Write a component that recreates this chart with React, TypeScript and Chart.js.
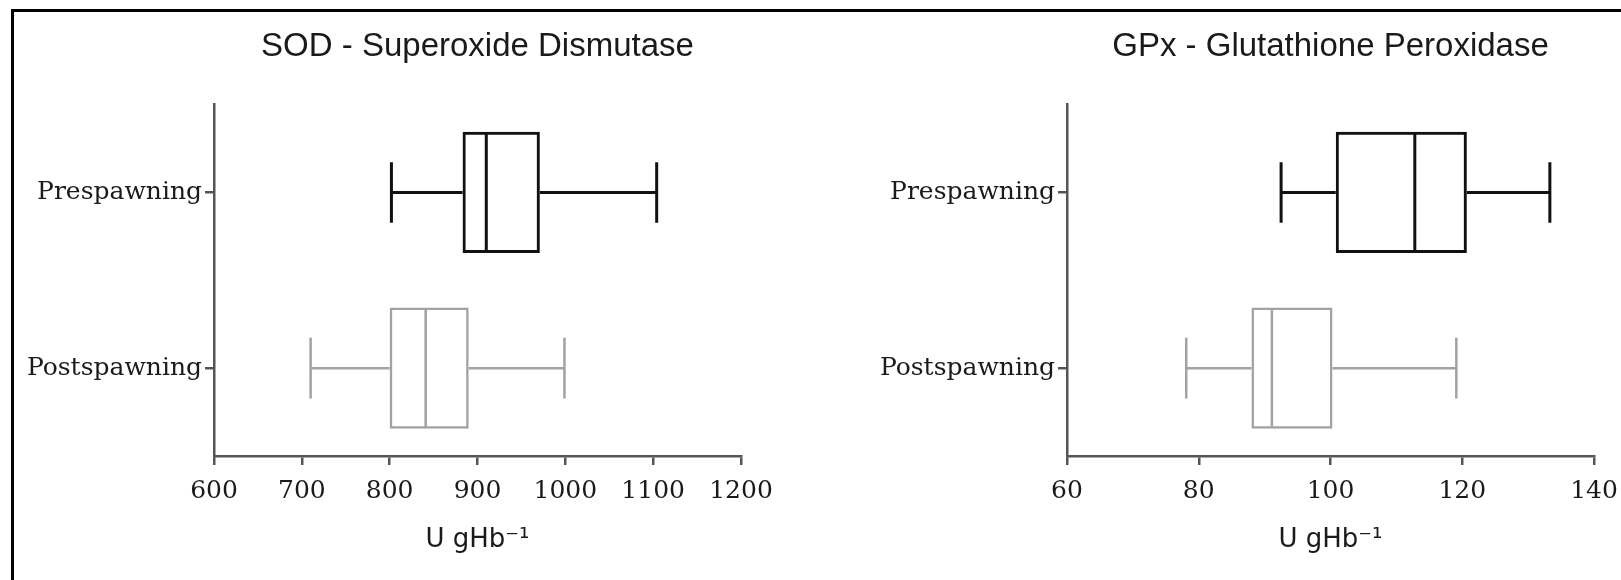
import React, { useEffect, useRef } from 'react';
import { Chart, registerables } from 'chart.js';

Chart.register(...registerables);

// ---- data ----
const groups = ['Prespawning', 'Postspawning'];

const sodMin = [802, 710];
const sodQ1 = [883, 800];
const sodMedian = [910, 841];
const sodQ3 = [971, 890];
const sodMax = [1104, 999];
const sodTicks = [600, 700, 800, 900, 1000, 1100, 1200];

const gpxMin = [92.5, 78.1];
const gpxQ1 = [100.8, 88.0];
const gpxMedian = [112.8, 91.1];
const gpxQ3 = [120.7, 100.3];
const gpxMax = [133.3, 119.1];
const gpxTicks = [60, 80, 100, 120, 140];

const groupColors = ['#111111', '#a2a2a2'];
const groupLineWidths = [3, 2.5];

const axisColor = '#555555';
const textColor = '#1a1a1a';

const whiskerPlugin = {
  id: 'boxWhiskers',
  afterDatasetsDraw(chart: any) {
    const ctx = chart.ctx;
    const xs = chart.scales.x;
    const ds: any = chart.data.datasets[0];
    const meta = chart.getDatasetMeta(0);
    meta.data.forEach((bar: any, i: number) => {
      const { y, height } = bar.getProps(['y', 'height'], true);
      const color = ds.borderColor[i];
      const lw = ds.borderWidth[i];
      const half = height / 2;
      const cap = height * 0.25;
      const pMin = xs.getPixelForValue(ds.whiskerMin[i]);
      const pQ1 = xs.getPixelForValue(ds.data[i][0]);
      const pQ3 = xs.getPixelForValue(ds.data[i][1]);
      const pMax = xs.getPixelForValue(ds.whiskerMax[i]);
      const pMed = xs.getPixelForValue(ds.median[i]);
      ctx.save();
      ctx.strokeStyle = color;
      ctx.lineWidth = lw;
      ctx.lineCap = 'butt';
      ctx.beginPath();
      ctx.moveTo(pMin, y);
      ctx.lineTo(pQ1, y);
      ctx.moveTo(pQ3, y);
      ctx.lineTo(pMax, y);
      ctx.moveTo(pMin, y - cap);
      ctx.lineTo(pMin, y + cap);
      ctx.moveTo(pMax, y - cap);
      ctx.lineTo(pMax, y + cap);
      ctx.moveTo(pMed, y - half + lw / 2);
      ctx.lineTo(pMed, y + half - lw / 2);
      ctx.stroke();
      ctx.restore();
    });
  },
};

function makeConfig(
  title: string,
  q1: number[],
  q3: number[],
  med: number[],
  mn: number[],
  mx: number[],
  ticks: number[],
  yWidth: number,
  padRight: number
): any {
  return {
    type: 'bar',
    data: {
      labels: groups,
      datasets: [
        {
          data: groups.map((_, i) => [q1[i], q3[i]]),
          median: med,
          whiskerMin: mn,
          whiskerMax: mx,
          backgroundColor: 'rgba(0,0,0,0)',
          borderColor: groupColors,
          borderWidth: groupLineWidths,
          borderSkipped: false,
          categoryPercentage: 1,
          barPercentage: 0.69,
        },
      ],
    },
    plugins: [whiskerPlugin],
    options: {
      indexAxis: 'y',
      animation: false,
      responsive: false,
      devicePixelRatio: 1,
      layout: { padding: { left: 0, right: padRight, top: 0, bottom: 0 } },
      plugins: {
        legend: { display: false },
        tooltip: { enabled: false },
        title: {
          display: true,
          text: title,
          fullSize: false,
          color: textColor,
          font: { family: '"Liberation Sans", Arial, sans-serif', size: 33, weight: 'normal', lineHeight: 1.2 },
          padding: { top: 27, bottom: 38 },
        },
      },
      scales: {
        x: {
          type: 'linear',
          min: ticks[0],
          max: ticks[ticks.length - 1],
          afterBuildTicks: (scale: any) => {
            scale.ticks = ticks.map((v) => ({ value: v }));
          },
          afterFit: (scale: any) => {
            scale.height = 124;
          },
          border: { display: true, color: axisColor, width: 2.5 },
          grid: { drawOnChartArea: false, drawTicks: true, tickLength: 9, color: axisColor, lineWidth: 2.5 },
          ticks: {
            color: textColor,
            padding: 11,
            font: { family: '"DejaVu Serif", serif', size: 25 },
            maxRotation: 0,
            callback: (v: any) => String(v),
          },
          title: {
            display: true,
            text: 'U gHb\u207B\u00B9',
            color: textColor,
            font: { family: '"DejaVu Sans", Verdana, sans-serif', size: 26, lineHeight: 1.2 },
            padding: { top: 0, bottom: 24 },
          },
        },
        y: {
          type: 'category',
          offset: true,
          afterFit: (scale: any) => {
            scale.width = yWidth;
          },
          border: { display: true, color: axisColor, width: 2.5 },
          grid: { offset: false, drawOnChartArea: false, drawTicks: true, tickLength: 9, color: axisColor, lineWidth: 2.5 },
          ticks: {
            color: textColor,
            padding: 3,
            font: { family: '"DejaVu Serif", serif', size: 25 },
          },
        },
      },
    },
  };
}

function BoxChart(props: { config: any; left: number; width: number }) {
  const ref = useRef<HTMLCanvasElement | null>(null);
  useEffect(() => {
    if (!ref.current) return;
    const chart = new Chart(ref.current, props.config);
    return () => chart.destroy();
  }, []);
  return (
    <canvas
      ref={ref}
      width={props.width}
      height={580}
      style={{ position: 'absolute', left: props.left, top: 0, width: props.width, height: 580 }}
    />
  );
}

export default function App() {
  const sodConfig = makeConfig('SOD - Superoxide Dismutase', sodQ1, sodQ3, sodMedian, sodMin, sodMax, sodTicks, 214, 59);
  const gpxConfig = makeConfig('GPx - Glutathione Peroxidase', gpxQ1, gpxQ3, gpxMedian, gpxMin, gpxMax, gpxTicks, 247, 56);
  return (
    <div
      style={{
        position: 'fixed',
        left: 0,
        top: 0,
        width: 1621,
        height: 580,
        overflow: 'hidden',
        background: '#ffffff',
      }}
    >
      <div
        style={{
          position: 'absolute',
          left: 11,
          top: 9,
          width: 1800,
          height: 800,
          border: '3.5px solid #000',
        }}
      />
      <BoxChart config={sodConfig} left={0} width={800} />
      <BoxChart config={gpxConfig} left={820} width={830} />
    </div>
  );
}
